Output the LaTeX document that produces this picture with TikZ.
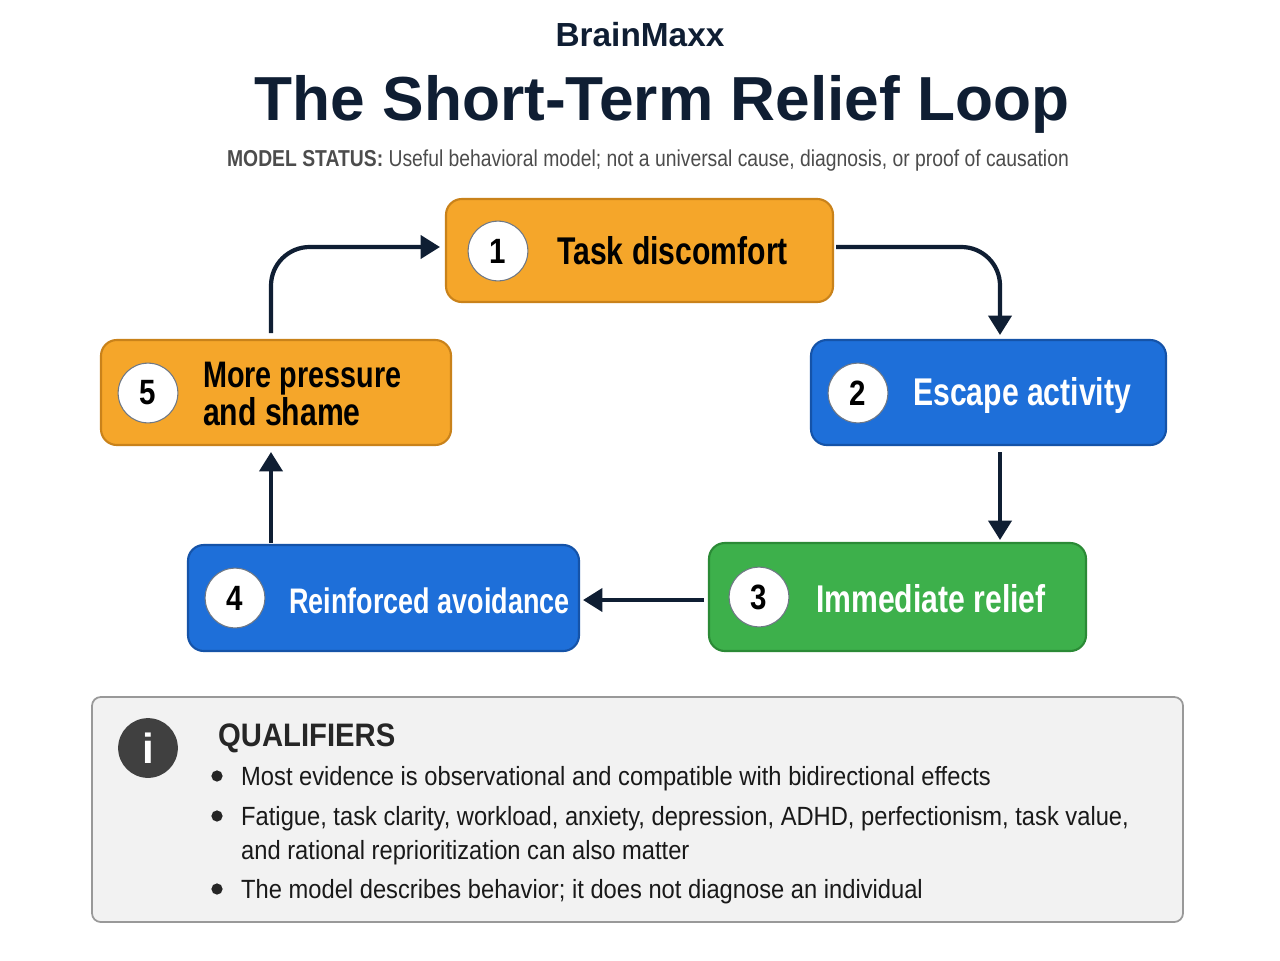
\documentclass[tikz,border=0pt]{standalone}
\usepackage{fontspec}
\setmainfont{Liberation Sans}
\newfontfamily\cond{Liberation Sans}[FakeStretch=0.84]
\newfontfamily\condq{Liberation Sans}[FakeStretch=0.9]
\newfontfamily\condn{Liberation Sans}[FakeStretch=0.78]
\newfontfamily\condm{Liberation Sans}[FakeStretch=0.76]
\usetikzlibrary{arrows.meta}
\definecolor{org}{HTML}{F5A62A}\definecolor{orgd}{HTML}{C9821A}
\definecolor{blu}{HTML}{1E6FD9}\definecolor{blud}{HTML}{1553A8}
\definecolor{grn}{HTML}{3DB04B}\definecolor{grnd}{HTML}{2B8A36}
\definecolor{navy}{HTML}{0F1E33}
\begin{document}
\begin{tikzpicture}[x=0.02cm,y=-0.02cm,
 box/.style={draw=#1,line width=1.2pt,rounded corners=9pt},
 num/.style={circle,fill=white,draw=navy!60,line width=0.6pt,minimum size=34pt,inner sep=0pt,font=\cond\fontsize{20}{20}\selectfont\bfseries,text=black},
 lbl/.style={anchor=west,font=\condn\fontsize{22}{22}\selectfont\bfseries,align=left},
 arr/.style={draw=navy,line width=2.4pt,-{Triangle[length=11pt,width=13pt]}},
 qt/.style={anchor=base west,font=\condq\fontsize{15}{15}\selectfont,text=black!90}]
\useasboundingbox (0,0) rectangle (1280,960);
\fill[white] (0,0) rectangle (1280,960);
\node (brand) at (640,35) {\fontsize{19}{19}\selectfont\bfseries\color{navy}BrainMaxx};
\node (title) at (662,104) {\fontsize{35.4}{36}\selectfont\bfseries\color{navy}The Short-Term Relief Loop};
\node (sub) at (648,161) {\cond\fontsize{13.1}{13.1}\selectfont\color{black!70}\textbf{MODEL STATUS:} Useful behavioral model; not a universal cause, diagnosis, or proof of causation};
% boxes
\filldraw[box=orgd,fill=org] (446,199) rectangle (833,302);
\node[num] (n1) at (498,251) {1};
\node[lbl] (t1) at (551,251) {Task discomfort};
\filldraw[box=blud,fill=blu] (811,340) rectangle (1166,445);
\node[num] (n2) at (858,393) {2};
\node[lbl,text=white] (t2) at (907,395) {Escape activity};
\filldraw[box=grnd,fill=grn] (709,543) rectangle (1086,651);
\node[num] (n3) at (759,597) {3};
\node[lbl,text=white] (t3) at (810,599) {Immediate relief};
\filldraw[box=blud,fill=blu] (188,545) rectangle (579,651);
\node[num] (n4) at (235,598) {4};
\node[lbl,text=white,font=\condm\fontsize{20.2}{20}\selectfont\bfseries] (t4) at (283,601) {Reinforced avoidance};
\filldraw[box=orgd,fill=org] (101,340) rectangle (451,445);
\node[num] (n5) at (148,393) {5};
\node[lbl] (t5) at (197,394) {\fontsize{21}{20}\selectfont More pressure\\and shame};
% arrows
\coordinate (a1) at (836,247); \coordinate (a1e) at (1000,335);
\draw[arr,rounded corners=22pt] (a1) -- (1000,247) -- (a1e);
\coordinate (a2) at (1000,452); \coordinate (a2e) at (1000,540);
\draw[arr] (a2) -- (a2e);
\coordinate (a3) at (704,600); \coordinate (a3e) at (583,600);
\draw[arr] (a3) -- (a3e);
\coordinate (a4) at (271,543); \coordinate (a4e) at (271,452);
\draw[arr] (a4) -- (a4e);
\coordinate (a5) at (271,333); \coordinate (a5e) at (440,247);
\draw[arr,rounded corners=22pt] (a5) -- (271,247) -- (a5e);
% qualifiers
\filldraw[draw=black!40,fill=black!5,line width=1pt,rounded corners=5pt] (92,697) rectangle (1183,922);
\node[circle,fill=black!75,minimum size=34pt,inner sep=0pt,text=white,font=\fontsize{24}{24}\selectfont\bfseries\rmfamily] (ic) at (148,748) {i};
\node[anchor=base west,font=\condq\fontsize{18.5}{18.5}\selectfont\bfseries,text=black!85] (qh) at (212,746) {QUALIFIERS};
\foreach \y in {785,825,898}{\fill[black!85] (217,\y-9) circle (3.2pt);}
\node[qt] (q1) at (235,785) {Most evidence is observational and compatible with bidirectional effects};
\node[qt] (q2) at (235,825) {Fatigue, task clarity, workload, anxiety, depression, ADHD, perfectionism, task value,};
\node[qt] (q3) at (235,859) {and rational reprioritization can also matter};
\node[qt] (q4) at (235,898) {The model describes behavior; it does not diagnose an individual};
\end{tikzpicture}
\end{document}
